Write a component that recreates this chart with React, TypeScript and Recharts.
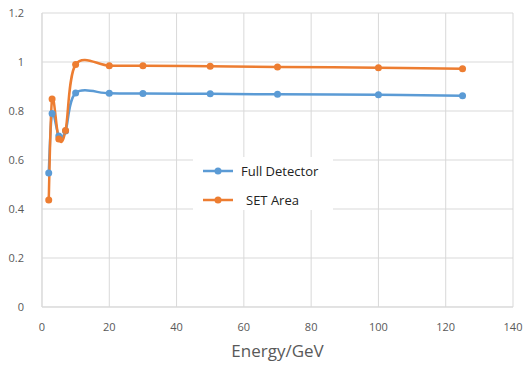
import { LineChart, Line, XAxis, YAxis, CartesianGrid } from 'recharts';

const ENERGY = [2, 3, 5, 7, 10, 20, 30, 50, 70, 100, 125];
const FULL_DETECTOR = [0.547, 0.79, 0.698, 0.718, 0.873, 0.872, 0.871, 0.87, 0.868, 0.866, 0.862];
const SET_AREA = [0.437, 0.849, 0.686, 0.72, 0.99, 0.985, 0.985, 0.983, 0.98, 0.977, 0.972];
const X_TICKS = [0, 20, 40, 60, 80, 100, 120, 140];
const Y_TICKS = [0, 0.2, 0.4, 0.6, 0.8, 1, 1.2];

const SERIES = [
  { key: 'full', name: 'Full Detector', color: '#5B9BD5', indent: 0 },
  { key: 'set', name: 'SET Area', color: '#ED7D31', indent: 5 },
];

const data = ENERGY.map((e, i) => ({ energy: e, full: FULL_DETECTOR[i], set: SET_AREA[i] }));

// smooth line like the spreadsheet one (catmull-rom through the points)
function smoothCurve(context: any) {
  let pts: [number, number][] = [];
  return {
    areaStart() {},
    areaEnd() {},
    lineStart() {
      pts = [];
    },
    point(x: number, y: number) {
      pts.push([+x, +y]);
    },
    lineEnd() {
      if (!pts.length) return;
      context.moveTo(pts[0][0], pts[0][1]);
      for (let i = 0; i < pts.length - 1; i++) {
        const p0 = pts[Math.max(i - 1, 0)];
        const p1 = pts[i];
        const p2 = pts[i + 1];
        const p3 = pts[Math.min(i + 2, pts.length - 1)];
        context.bezierCurveTo(
          p1[0] + (p2[0] - p0[0]) / 6,
          p1[1] + (p2[1] - p0[1]) / 6,
          p2[0] - (p3[0] - p1[0]) / 6,
          p2[1] - (p3[1] - p1[1]) / 6,
          p2[0],
          p2[1]
        );
      }
    },
  };
}

function LegendBox() {
  return (
    <div
      style={{
        position: 'absolute',
        left: 193,
        top: 157,
        background: '#fff',
        width: 140,
        height: 53,
        fontFamily: 'Open Sans, sans-serif',
        fontSize: 13,
        color: '#222',
      }}
    >
      {SERIES.map((s, i) => (
        <div key={s.key} style={{ display: 'flex', alignItems: 'center', height: 22, marginTop: i === 0 ? 3 : 7 }}>
          <svg width={30} height={10} style={{ marginLeft: 10, marginRight: 8 + s.indent }}>
            <line x1={0} y1={5} x2={30} y2={5} stroke={s.color} strokeWidth={2.5} />
            <circle cx={15} cy={5} r={3.5} fill={s.color} />
          </svg>
          <span>{s.name}</span>
        </div>
      ))}
    </div>
  );
}

export default function App() {
  const tick = { fill: '#595959', fontSize: 11, fontFamily: 'Open Sans, sans-serif' };
  return (
    <div style={{ position: 'absolute', left: 0, top: 0, width: 531, height: 365, background: '#fff' }}>
      <LineChart width={531} height={365} data={data} margin={{ top: 13, right: 18, left: 0, bottom: 0 }}>
        <CartesianGrid stroke="#d9d9d9" />
        <XAxis
          dataKey="energy"
          type="number"
          domain={[0, 140]}
          ticks={X_TICKS}
          tick={tick}
          tickLine={false}
          axisLine={{ stroke: '#d9d9d9' }}
          tickMargin={10}
          height={58}
          label={{ value: 'Energy/GeV', position: 'insideBottom', offset: 8, fill: '#595959', fontSize: 17, fontFamily: 'Open Sans, sans-serif' }}
        />
        <YAxis
          type="number"
          domain={[0, 1.2]}
          ticks={Y_TICKS}
          tick={tick}
          tickLine={false}
          axisLine={{ stroke: '#d9d9d9' }}
          tickMargin={12}
          width={42}
        />
        {SERIES.map((s) => (
          <Line
            key={s.key}
            dataKey={s.key}
            name={s.name}
            type={smoothCurve as any}
            stroke={s.color}
            strokeWidth={2.5}
            dot={{ r: 3.5, fill: s.color, stroke: s.color, strokeWidth: 0 }}
            isAnimationActive={false}
          />
        ))}
      </LineChart>
      <LegendBox />
    </div>
  );
}
